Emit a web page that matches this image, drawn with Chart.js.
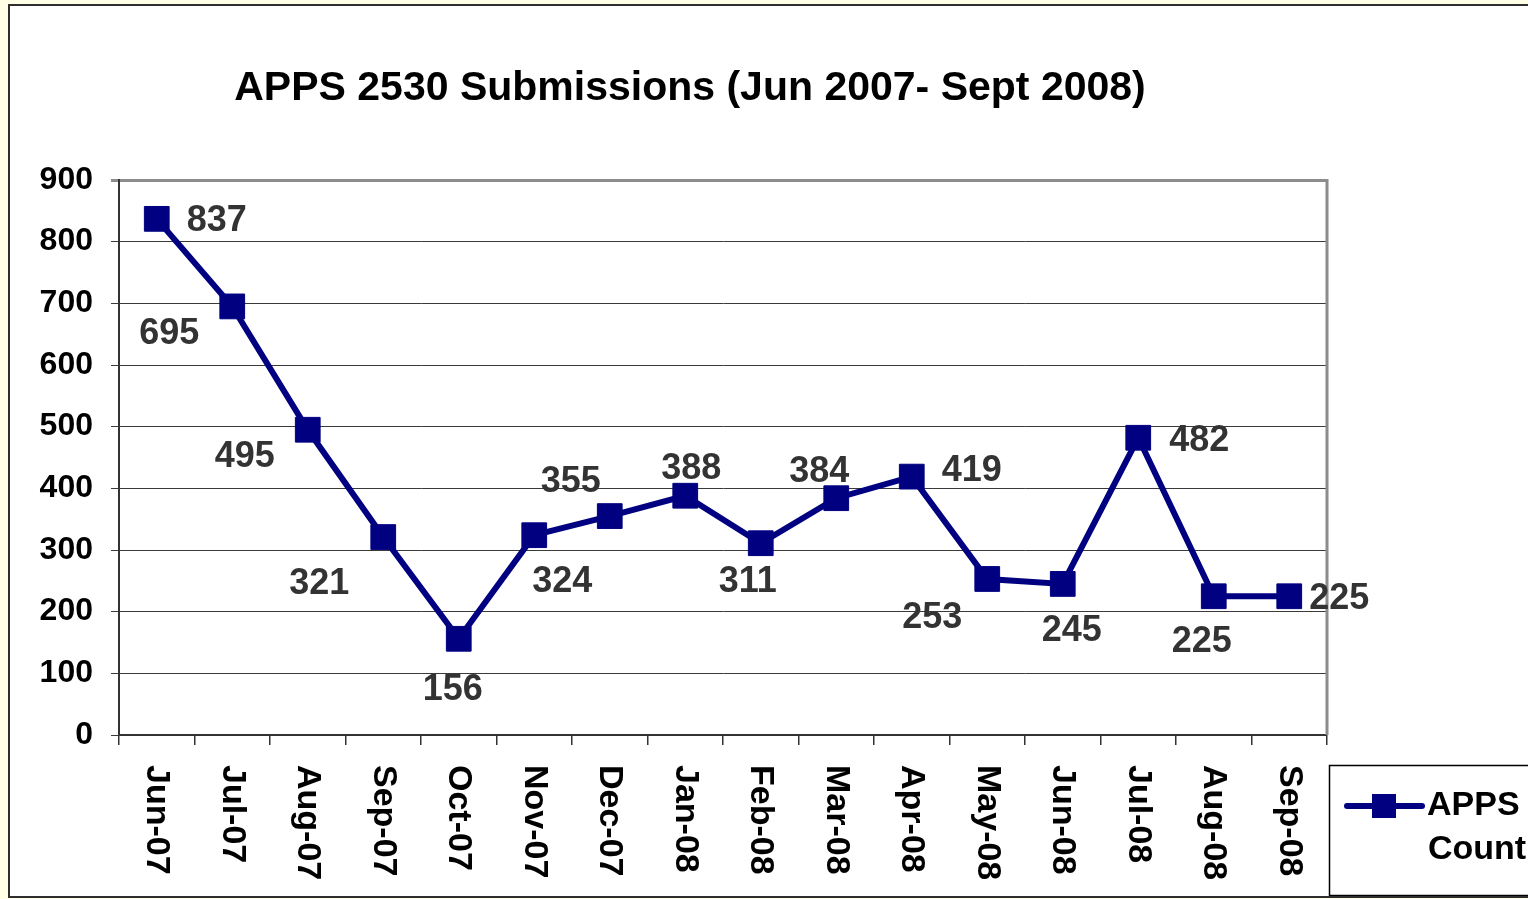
<!DOCTYPE html>
<html>
<head>
<meta charset="utf-8">
<script src="https://cdn.jsdelivr.net/npm/chart.js@4/dist/chart.umd.min.js"></script>
<style>
  html, body { margin: 0; padding: 0; background: #FFFFE6; width: 1528px; height: 899px; overflow: hidden; }
  #frame { position: absolute; left: 8px; top: 4px; width: 1560px; height: 890px; border: 2px solid #2e2e2e; background: #fff; }
  #c { position: absolute; left: 0; top: 0; }
</style>
</head>
<body>
<div id="frame"><canvas id="c" width="1518" height="890"></canvas></div>
<script>
const titleText = 'APPS 2530 Submissions (Jun 2007- Sept 2008)';
const seriesName = ['APPS', 'Count'];
const categories = ['Jun-07','Jul-07','Aug-07','Sep-07','Oct-07','Nov-07','Dec-07','Jan-08','Feb-08','Mar-08','Apr-08','May-08','Jun-08','Jul-08','Aug-08','Sep-08'];
const appsCount = [837, 695, 495, 321, 156, 324, 355, 388, 311, 384, 419, 253, 245, 482, 225, 225];
const yTicks = [0, 100, 200, 300, 400, 500, 600, 700, 800, 900];

// label placement relative to each marker (layout only)
const labelOffsets = [
  [60, 2], [-63, 28], [-63, 27], [-64, 47], [-6, 51], [28, 47], [-39, -34], [6, -27],
  [-13, 39], [-17, -26], [60, -6], [-55, 39], [9, 47], [61, 3], [-12, 46], [50, 3]
];

const NAVY = '#000080';
const FONT = '"Liberation Sans", Arial, sans-serif';

const overlay = {
  id: 'overlay',
  afterDraw(chart) {
    const ctx = chart.ctx;
    const xs = chart.scales.x;
    const area = chart.chartArea;
    ctx.save();
    // right border of plot area
    ctx.strokeStyle = '#8c8c8c';
    ctx.lineWidth = 3;
    ctx.beginPath();
    ctx.moveTo(area.right, area.top - 1);
    ctx.lineTo(area.right, area.bottom);
    ctx.stroke();

    // title
    ctx.fillStyle = '#000';
    ctx.font = 'bold 41px ' + FONT;
    ctx.textAlign = 'center';
    ctx.textBaseline = 'middle';
    ctx.fillText(titleText, 680, 83);

    // x labels rotated clockwise
    ctx.font = 'bold 34px ' + FONT;
    ctx.textAlign = 'left';
    ctx.textBaseline = 'middle';
    categories.forEach((c, i) => {
      const x = xs.getPixelForValue(i);
      ctx.save();
      ctx.translate(x, 759);
      ctx.rotate(Math.PI / 2);
      ctx.fillText(c, 0, 0);
      ctx.restore();
    });

    // data labels
    const meta = chart.getDatasetMeta(0);
    ctx.font = 'bold 36px ' + FONT;
    ctx.fillStyle = '#333333';
    ctx.textAlign = 'center';
    ctx.textBaseline = 'middle';
    meta.data.forEach((pt, i) => {
      const o = labelOffsets[i];
      ctx.fillText(String(appsCount[i]), pt.x + o[0], pt.y + o[1]);
    });

    // legend
    ctx.strokeStyle = '#000';
    ctx.lineWidth = 1.5;
    ctx.strokeRect(1319.5, 759.5, 260, 130);
    ctx.strokeStyle = NAVY;
    ctx.lineWidth = 6;
    ctx.lineCap = 'round';
    ctx.beginPath();
    ctx.moveTo(1337, 800);
    ctx.lineTo(1412, 800);
    ctx.stroke();
    ctx.fillStyle = NAVY;
    ctx.fillRect(1362, 788, 24, 24);
    ctx.fillStyle = '#000';
    ctx.font = 'bold 34px ' + FONT;
    ctx.textAlign = 'left';
    ctx.fillText(seriesName[0], 1417, 800);
    ctx.fillText(seriesName[1], 1418, 844);
    ctx.restore();
  }
};

new Chart(document.getElementById('c'), {
  type: 'line',
  data: {
    labels: categories,
    datasets: [{
      label: seriesName.join(' '),
      data: appsCount,
      borderColor: NAVY,
      backgroundColor: NAVY,
      borderWidth: 6,
      pointStyle: 'rect',
      pointRadius: 17.5,
      pointBorderWidth: 1,
      pointBorderColor: NAVY,
      pointBackgroundColor: NAVY,
      tension: 0,
      clip: false
    }]
  },
  options: {
    responsive: false,
    animation: false,
    layout: { padding: { top: 174, right: 201, left: 0, bottom: 0 } },
    plugins: { legend: { display: false }, title: { display: false }, tooltip: { enabled: false } },
    scales: {
      x: {
        type: 'category',
        offset: true,
        grid: { offset: true, drawOnChartArea: false, drawTicks: true, tickLength: 10, color: '#333', lineWidth: 1.5 },
        border: { display: true, color: '#333', width: 2 },
        ticks: { display: false },
        afterFit(s) { s.height = 890 - 729; }
      },
      y: {
        min: 0, max: 900,
        afterBuildTicks(s) { s.ticks = yTicks.map(v => ({ value: v })); },
        grid: {
          color: c => (c.tick && c.tick.value === 900) ? '#8c8c8c' : '#3a3a3a',
          lineWidth: c => (c.tick && c.tick.value === 900) ? 3 : 1,
          tickLength: 8,
          drawTicks: true
        },
        border: { display: true, color: '#333', width: 2 },
        ticks: { color: '#000', font: { family: FONT, size: 32, weight: 'bold' }, padding: 18 },
        afterFit(s) { s.width = 109; }
      }
    }
  },
  plugins: [overlay]
});
</script>
</body>
</html>
